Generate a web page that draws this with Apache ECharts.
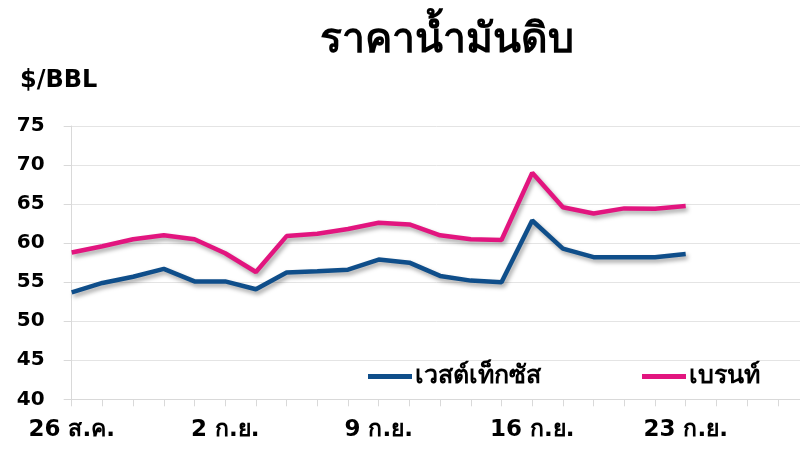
<!DOCTYPE html>
<html>
<head>
<meta charset="utf-8">
<script src="https://cdn.jsdelivr.net/npm/echarts@6/dist/echarts.min.js"></script>
<style>
html,body{margin:0;padding:0;background:#fff;}
#c{width:800px;height:466px;}
</style>
</head>
<body>
<div id="c"></div>
<script>
var categories = ['26 ส.ค.','27 ส.ค.','28 ส.ค.','29 ส.ค.','30 ส.ค.',
  '2 ก.ย.','3 ก.ย.','4 ก.ย.','5 ก.ย.','6 ก.ย.',
  '9 ก.ย.','10 ก.ย.','11 ก.ย.','12 ก.ย.','13 ก.ย.',
  '16 ก.ย.','17 ก.ย.','18 ก.ย.','19 ก.ย.','20 ก.ย.',
  '23 ก.ย.','24 ก.ย.','25 ก.ย.','26 ก.ย.','27 ก.ย.'];
var wti = [53.7,54.9,55.7,56.7,55.1,55.1,54.1,56.25,56.4,56.6,57.9,57.5,55.8,55.2,55.0,62.9,59.3,58.2,58.2,58.2,58.6];
var brent = [58.8,59.6,60.5,61.0,60.5,58.7,56.3,60.9,61.2,61.8,62.6,62.4,61.0,60.5,60.4,69.0,64.6,63.8,64.45,64.4,64.75];
var seriesNames = ['เวสต์เท็กซัส','เบรนท์'];
var yTicks = {min:40, max:75, step:5};
var titleText = 'ราคาน้ำมันดิบ';
var unitText = '$/BBL';

var FONT = '"DejaVu Sans", "Noto Sans", sans-serif';
var chart = echarts.init(document.getElementById('c'));
var lineShadow = {shadowColor:'rgba(0,0,0,0.35)', shadowBlur:4, shadowOffsetX:2, shadowOffsetY:3};
chart.setOption({
  animation:false,
  backgroundColor:'#ffffff',
  graphic:[
    {type:'text', left:320, top:21, style:{text:titleText, fill:'#000', font:'bold 41px ' + FONT}},
    {type:'text', left:20, top:69, style:{text:unitText, fill:'#000', font:'bold 24px ' + FONT}}
  ],
  legend:[
    {data:[{name:seriesNames[0], icon:'rect'}], left:368, top:364, padding:0, itemWidth:44, itemHeight:5, itemGap:0,
     textStyle:{color:'#000', fontSize:25, fontWeight:'bold', fontFamily:FONT, padding:[0,0,0,-2]}},
    {data:[{name:seriesNames[1], icon:'rect'}], left:642, top:364, padding:0, itemWidth:44, itemHeight:5, itemGap:0,
     textStyle:{color:'#000', fontSize:25, fontWeight:'bold', fontFamily:FONT, padding:[0,0,0,-2]}}
  ],
  grid:{left:71.7, right:-8.5, top:126, bottom:66.7, containLabel:false, outerBoundsMode:'none'},
  xAxis:{
    type:'category', data:categories, boundaryGap:false,
    axisLine:{lineStyle:{color:'#d9d9d9', width:1}},
    axisTick:{show:true, interval:0, length:7, lineStyle:{color:'#d9d9d9'}},
    axisLabel:{interval:4, color:'#000', fontSize:23, fontWeight:'bold', fontFamily:FONT, margin:19}
  },
  yAxis:{
    type:'value', min:yTicks.min, max:yTicks.max, interval:yTicks.step,
    axisLine:{show:true, lineStyle:{color:'#d9d9d9'}},
    axisTick:{show:true, length:8, lineStyle:{color:'#d9d9d9'}},
    axisLabel:{color:'#000', fontSize:20, fontWeight:'bold', fontFamily:FONT, margin:27},
    splitLine:{lineStyle:{color:'#e4e4e4', width:1}}
  },
  series:[
    {name:seriesNames[0], type:'line', data:wti, showSymbol:false, symbol:'none', color:'#0f4e8a',
     lineStyle:Object.assign({width:4.5, color:'#0f4e8a'}, lineShadow), z:3},
    {name:seriesNames[1], type:'line', data:brent, showSymbol:false, symbol:'none', color:'#e2157f',
     lineStyle:Object.assign({width:4.5, color:'#e2157f'}, lineShadow), z:2}
  ]
});
</script>
</body>
</html>
